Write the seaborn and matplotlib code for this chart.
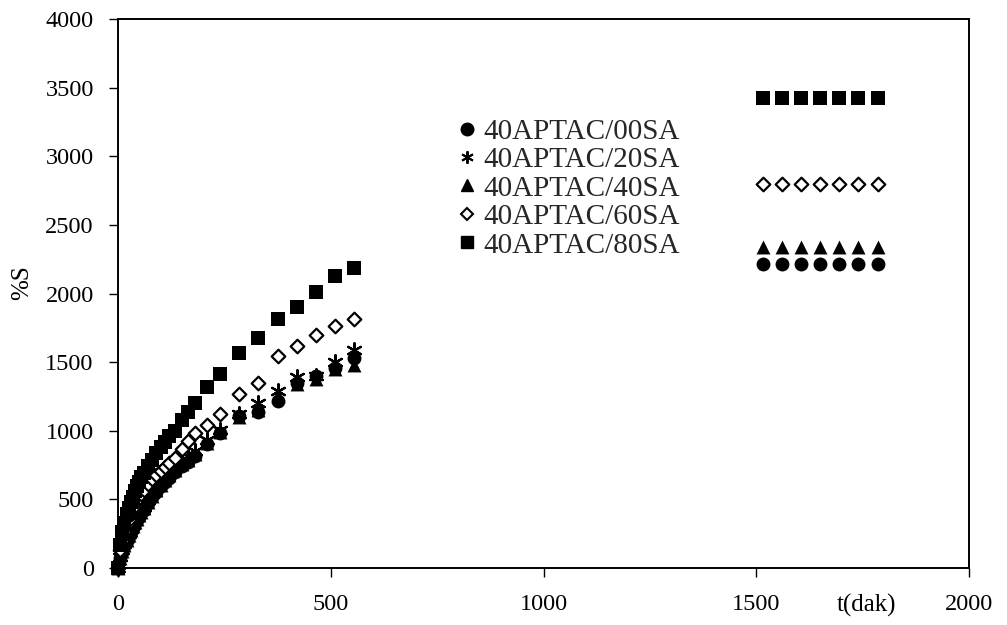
import matplotlib
matplotlib.use("Agg")
import matplotlib.pyplot as plt
import seaborn as sns
import pandas as pd
from matplotlib.lines import Line2D

# Swelling measurement times (min) and the equilibrium readings
t_min = [0, 5, 10, 15, 20, 25, 30, 35, 40, 45, 50, 55, 60, 70, 80, 90, 100,
         110, 120, 135, 150, 165, 180, 210, 240, 285, 330, 375, 420, 465, 510, 555]
t_eq = [1515, 1560, 1605, 1650, 1695, 1740, 1785]

s_00 = [0, 70, 120, 160, 200, 235, 265, 295, 325, 350, 375, 400, 425, 470, 515, 555, 595,
        625, 655, 700, 740, 775, 815, 905, 985, 1110, 1140, 1215, 1350, 1400, 1460, 1530]
s_20 = [0, 80, 130, 175, 215, 250, 285, 315, 345, 370, 395, 420, 445, 495, 540, 580, 620,
        655, 690, 735, 775, 815, 855, 935, 1005, 1120, 1200, 1290, 1390, 1400, 1500, 1590]
s_40 = [0, 75, 125, 165, 205, 240, 275, 305, 335, 360, 385, 410, 435, 480, 525, 565, 605,
        640, 675, 715, 755, 790, 830, 910, 990, 1100, 1150, 1250, 1340, 1380, 1450, 1480]
s_60 = [0, 130, 200, 260, 310, 350, 390, 420, 455, 485, 510, 540, 565, 610, 650, 680, 705,
        735, 765, 805, 865, 925, 985, 1045, 1120, 1265, 1350, 1545, 1620, 1695, 1765, 1815]
s_80 = [0, 170, 260, 330, 390, 440, 480, 520, 560, 600, 630, 660, 690, 740, 790, 840, 880,
        920, 960, 1000, 1075, 1135, 1200, 1320, 1410, 1565, 1675, 1815, 1900, 2010, 2130, 2185]

eq_00 = 2218
eq_40 = 2342
eq_60 = 2800
eq_80 = 3425

labels = ["40APTAC/00SA", "40APTAC/20SA", "40APTAC/40SA", "40APTAC/60SA", "40APTAC/80SA"]

x_ticks = [0, 500, 1000, 1500, 2000]
y_ticks = [0, 500, 1000, 1500, 2000, 2500, 3000, 3500, 4000]

sns.set_theme(style="white")
plt.rcParams["font.family"] = ["Liberation Serif", "DejaVu Serif"]

series = [
    (t_min + t_eq, s_00 + [eq_00] * len(t_eq),
     dict(marker="o", s=100, color="black", edgecolor="black", linewidth=0)),
    (t_min, s_20,
     dict(marker=(6, 2, 0), s=110, color="black", linewidth=1.6)),
    (t_min + t_eq, s_40 + [eq_40] * len(t_eq),
     dict(marker="^", s=100, color="black", edgecolor="black", linewidth=0)),
    (t_min + t_eq, s_60 + [eq_60] * len(t_eq),
     dict(marker="D", s=48, facecolor="white", edgecolor="black", linewidth=1.6)),
    (t_min + t_eq, s_80 + [eq_80] * len(t_eq),
     dict(marker="s", s=100, color="black", edgecolor="black", linewidth=0)),
]

fig = plt.figure(figsize=(10.07, 6.25), dpi=100)
ax = fig.add_axes([118 / 1007, 1 - 568 / 625, 851 / 1007, 549 / 625])

for xs, ys, style in series:
    df = pd.DataFrame({"t": xs, "S": ys})
    sns.scatterplot(data=df, x="t", y="S", ax=ax, legend=False, zorder=3,
                    clip_on=False, **style)

ax.set_xlim(0, 2000)
ax.set_ylim(0, 4000)
ax.set_xticks(x_ticks)
ax.set_yticks(y_ticks)
ax.set_xticklabels([str(v) for v in x_ticks])
ax.set_yticklabels([str(v) for v in y_ticks])
ax.tick_params(axis="both", which="major", direction="out", length=6.5, width=1,
               color="black", labelsize=17.5, labelcolor="black", bottom=True, left=True)
ax.tick_params(axis="x", pad=12)
ax.tick_params(axis="y", pad=11)
for sp in ax.spines.values():
    sp.set_color("black")
    sp.set_linewidth(1.4)
ax.grid(False)
ax.set_facecolor("white")

ax.set_xlabel("")
ax.set_ylabel("%S", fontsize=18, color="black")
ax.yaxis.set_label_coords(-0.10, 0.52)
ax.text(1760, -270, "t(dak)", fontsize=18, color="black", ha="center", va="center")

handles = [
    Line2D([], [], linestyle="none", marker="o", markersize=9, color="black"),
    Line2D([], [], linestyle="none", marker=(6, 2, 0), markersize=9, color="black",
           markeredgewidth=1.4),
    Line2D([], [], linestyle="none", marker="^", markersize=9, color="black"),
    Line2D([], [], linestyle="none", marker="D", markersize=6, markerfacecolor="white",
           markeredgecolor="black", markeredgewidth=1.5),
    Line2D([], [], linestyle="none", marker="s", markersize=9, color="black"),
]
ax.legend(handles, labels, loc="upper left", bbox_to_anchor=(0.398, 0.819), frameon=False,
          fontsize=21, handlelength=0.7, handletextpad=0.2, labelspacing=0.07,
          borderaxespad=0, borderpad=0)

fig.savefig("out.png", dpi=100, facecolor="white")
